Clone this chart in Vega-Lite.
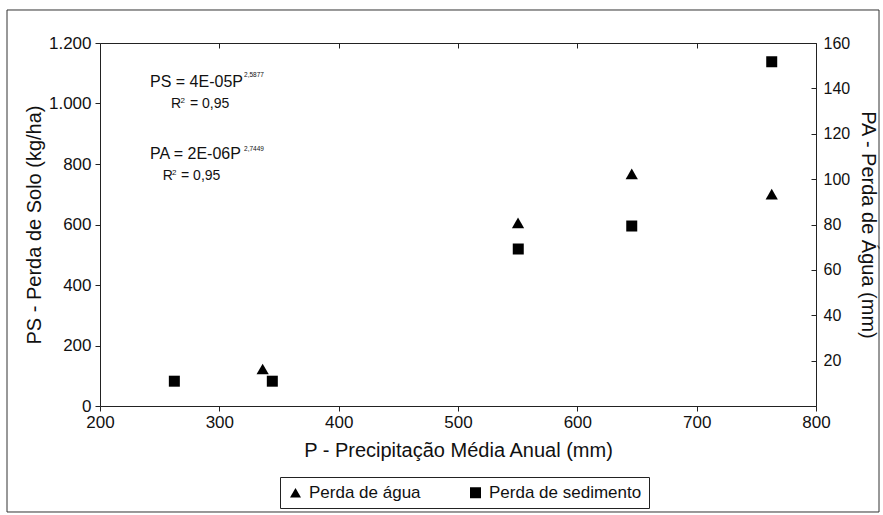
{
  "$schema": "https://vega.github.io/schema/vega-lite/v6.json",
  "width": 716,
  "height": 363,
  "autosize": {"type": "none"},
  "padding": {"left": 100, "top": 43, "right": 67, "bottom": 109},
  "background": "white",
  "config": {
    "view": {"stroke": null},
    "font": "Liberation Sans",
    "axis": {
      "grid": false,
      "domainColor": "#222",
      "tickColor": "#222",
      "labelColor": "#111",
      "titleColor": "#111",
      "labelFont": "Liberation Sans",
      "titleFont": "Liberation Sans",
      "titleFontWeight": "normal"
    },
    "text": {"font": "Liberation Sans", "color": "#111", "align": "left", "baseline": "alphabetic"}
  },
  "datasets": {
    "sed": [
      {"P": 262.3, "PS": 82, "serie": "Perda de sedimento"},
      {"P": 344.4, "PS": 82, "serie": "Perda de sedimento"},
      {"P": 550.5, "PS": 519, "serie": "Perda de sedimento"},
      {"P": 645.6, "PS": 595, "serie": "Perda de sedimento"},
      {"P": 762.9, "PS": 1138, "serie": "Perda de sedimento"}
    ],
    "agua": [
      {"P": 336.3, "PA": 16.3, "serie": "Perda de água"},
      {"P": 550.3, "PA": 80.7, "serie": "Perda de água"},
      {"P": 645.6, "PA": 102.3, "serie": "Perda de água"},
      {"P": 762.9, "PA": 93.4, "serie": "Perda de água"}
    ],
    "one": [{}]
  },
  "layer": [
    {
      "data": {"name": "sed"},
      "mark": {"type": "point", "filled": true, "size": 121, "opacity": 1, "color": "black"},
      "encoding": {
        "x": {
          "field": "P", "type": "quantitative",
          "scale": {"domain": [200, 800], "nice": false, "zero": false},
          "axis": {
            "orient": "bottom",
            "values": [200, 300, 400, 500, 600, 700, 800],
            "format": "d",
            "title": "P - Precipitação Média Anual (mm)",
            "titleFontSize": 20,
            "labelFontSize": 17,
            "tickSize": 5,
            "labelPadding": 3,
            "titlePadding": 10,
            "labelFlush": false
          }
        },
        "y": {
          "field": "PS", "type": "quantitative",
          "scale": {"domain": [0, 1200], "nice": false, "zero": true},
          "axis": {
            "orient": "left",
            "values": [0, 200, 400, 600, 800, 1000, 1200],
            "format": ",d",
            "labelExpr": "replace(datum.label, ',', '.')",
            "title": "PS - Perda de Solo (kg/ha)",
            "titleFontSize": 20,
            "labelFontSize": 17,
            "tickSize": 5,
            "labelPadding": 4,
            "titlePadding": 4
          }
        },
        "shape": {
          "field": "serie", "type": "nominal",
          "scale": {"domain": ["Perda de água", "Perda de sedimento"], "range": ["triangle-up", "square"]},
          "legend": {
            "title": null,
            "orient": "none",
            "legendX": 180,
            "legendY": 434,
            "direction": "horizontal",
            "columns": 2,
            "strokeColor": "#222",
            "fillColor": "white",
            "padding": 7,
            "labelFontSize": 17,
            "labelFont": "Liberation Sans",
            "labelColor": "#111",
            "symbolSize": 121,
            "symbolFillColor": "black",
            "symbolStrokeColor": "black",
            "symbolStrokeWidth": 0,
            "symbolOpacity": 1,
            "columnPadding": 46,
            "labelOffset": 5
          }
        }
      }
    },
    {
      "data": {"name": "agua"},
      "mark": {"type": "point", "filled": true, "size": 150, "opacity": 1, "color": "black"},
      "encoding": {
        "x": {
          "field": "P", "type": "quantitative",
          "scale": {"domain": [200, 800], "nice": false, "zero": false},
          "axis": {
            "orient": "top",
            "values": [200, 300, 400, 500, 600, 700, 800],
            "labels": false,
            "tickSize": -5,
            "title": null
          }
        },
        "y": {
          "field": "PA", "type": "quantitative",
          "scale": {"domain": [0, 160], "nice": false, "zero": true},
          "axis": {
            "orient": "right",
            "values": [0, 20, 40, 60, 80, 100, 120, 140, 160],
            "labelExpr": "datum.value == 0 ? '' : datum.label",
            "title": "PA - Perda de Água (mm)",
            "titleFontSize": 20,
            "labelFontSize": 16,
            "tickSize": -5,
            "labelPadding": 12,
            "titlePadding": 8
          }
        },
        "shape": {
          "field": "serie", "type": "nominal",
          "scale": {"domain": ["Perda de água", "Perda de sedimento"], "range": ["triangle-up", "square"]}
        }
      }
    },
    {
      "data": {"name": "one"},
      "mark": {"type": "text", "text": "PS = 4E-05P", "fontSize": 16},
      "encoding": {
        "x": {"datum": 241.9, "type": "quantitative", "scale": {"domain": [200, 800], "nice": false, "zero": false}, "axis": null},
        "y": {"datum": 1053.6, "type": "quantitative", "scale": {"domain": [0, 1200], "nice": false, "zero": true}, "axis": null}
      }
    },
    {
      "data": {"name": "one"},
      "mark": {"type": "text", "text": "2,5877", "fontSize": 6.5},
      "encoding": {
        "x": {"datum": 320.7, "type": "quantitative", "scale": {"domain": [200, 800], "nice": false, "zero": false}, "axis": null},
        "y": {"datum": 1086.6, "type": "quantitative", "scale": {"domain": [0, 1200], "nice": false, "zero": true}, "axis": null}
      }
    },
    {
      "data": {"name": "one"},
      "mark": {"type": "text", "text": "R", "fontSize": 14},
      "encoding": {
        "x": {"datum": 259.5, "type": "quantitative", "scale": {"domain": [200, 800], "nice": false, "zero": false}, "axis": null},
        "y": {"datum": 984.1, "type": "quantitative", "scale": {"domain": [0, 1200], "nice": false, "zero": true}, "axis": null}
      }
    },
    {
      "data": {"name": "one"},
      "mark": {"type": "text", "text": "2", "fontSize": 8},
      "encoding": {
        "x": {"datum": 267.5, "type": "quantitative", "scale": {"domain": [200, 800], "nice": false, "zero": false}, "axis": null},
        "y": {"datum": 1000.7, "type": "quantitative", "scale": {"domain": [0, 1200], "nice": false, "zero": true}, "axis": null}
      }
    },
    {
      "data": {"name": "one"},
      "mark": {"type": "text", "text": "= 0,95", "fontSize": 14},
      "encoding": {
        "x": {"datum": 275.4, "type": "quantitative", "scale": {"domain": [200, 800], "nice": false, "zero": false}, "axis": null},
        "y": {"datum": 984.1, "type": "quantitative", "scale": {"domain": [0, 1200], "nice": false, "zero": true}, "axis": null}
      }
    },
    {
      "data": {"name": "one"},
      "mark": {"type": "text", "text": "PA = 2E-06P", "fontSize": 16},
      "encoding": {
        "x": {"datum": 241.9, "type": "quantitative", "scale": {"domain": [200, 800], "nice": false, "zero": false}, "axis": null},
        "y": {"datum": 815.5, "type": "quantitative", "scale": {"domain": [0, 1200], "nice": false, "zero": true}, "axis": null}
      }
    },
    {
      "data": {"name": "one"},
      "mark": {"type": "text", "text": "2,7449", "fontSize": 6.5},
      "encoding": {
        "x": {"datum": 320.7, "type": "quantitative", "scale": {"domain": [200, 800], "nice": false, "zero": false}, "axis": null},
        "y": {"datum": 844, "type": "quantitative", "scale": {"domain": [0, 1200], "nice": false, "zero": true}, "axis": null}
      }
    },
    {
      "data": {"name": "one"},
      "mark": {"type": "text", "text": "R", "fontSize": 14},
      "encoding": {
        "x": {"datum": 252.5, "type": "quantitative", "scale": {"domain": [200, 800], "nice": false, "zero": false}, "axis": null},
        "y": {"datum": 747.1, "type": "quantitative", "scale": {"domain": [0, 1200], "nice": false, "zero": true}, "axis": null}
      }
    },
    {
      "data": {"name": "one"},
      "mark": {"type": "text", "text": "2", "fontSize": 8},
      "encoding": {
        "x": {"datum": 260.3, "type": "quantitative", "scale": {"domain": [200, 800], "nice": false, "zero": false}, "axis": null},
        "y": {"datum": 763.6, "type": "quantitative", "scale": {"domain": [0, 1200], "nice": false, "zero": true}, "axis": null}
      }
    },
    {
      "data": {"name": "one"},
      "mark": {"type": "text", "text": "= 0,95", "fontSize": 14},
      "encoding": {
        "x": {"datum": 267.9, "type": "quantitative", "scale": {"domain": [200, 800], "nice": false, "zero": false}, "axis": null},
        "y": {"datum": 747.1, "type": "quantitative", "scale": {"domain": [0, 1200], "nice": false, "zero": true}, "axis": null}
      }
    },
    {
      "data": {"name": "one"},
      "mark": {"type": "rect", "fill": "white", "fillOpacity": 0, "stroke": "#333", "strokeWidth": 1, "clip": false},
      "encoding": {
        "x": {"datum": 122.07, "type": "quantitative", "scale": {"domain": [200, 800], "nice": false, "zero": false}, "axis": null},
        "x2": {"datum": 852.8},
        "y": {"datum": 1309.1, "type": "quantitative", "scale": {"domain": [0, 1200], "nice": false, "zero": true}, "axis": null},
        "y2": {"datum": -350.4}
      }
    }
  ],
  "resolve": {
    "scale": {"y": "independent"},
    "axis": {"x": "independent", "y": "independent"}
  }
}
